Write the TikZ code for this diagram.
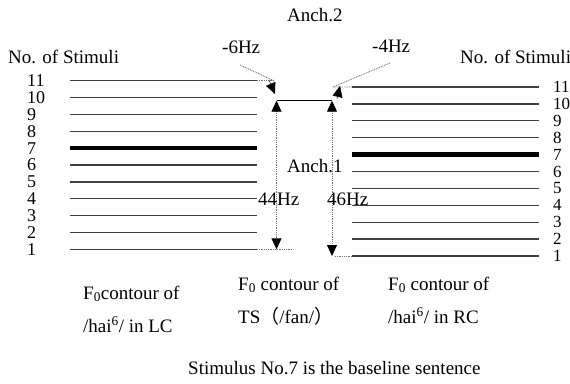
\documentclass[tikz,border=0pt]{standalone}
\usepackage{fontspec}
\setmainfont{Liberation Serif}
\newfontfamily\cjk{Noto Sans CJK SC}
\usetikzlibrary{arrows.meta,positioning}

\tikzset{
	stim/.style={draw=black!75,line width=1.3pt},
	basestim/.style={draw=black,line width=4.4pt},
	gap/.style={draw=black!55,dash pattern=on 0.9pt off 0.9pt,line width=0.9pt},
	tip/.tip={Triangle[width=10pt,length=11pt,color=black]},
	head/.style={-tip},
	lbl/.style={anchor=base west,inner sep=0pt},
	num/.style={anchor=west,inner sep=0pt,font=\fontsize{18}{18}\selectfont}
}

\begin{document}
\begin{tikzpicture}[x=1pt,y=-1pt,font=\fontsize{19}{22}\selectfont]
	\useasboundingbox (0,0) rectangle (570,383);
	
	\foreach \k in {1,...,11}{
		\coordinate (la\k) at (70,{249.3-(\k-1)*16.86});
		\coordinate (lb\k) at (257,{249.3-(\k-1)*16.86});
		\coordinate (ra\k) at (352,{256-(\k-1)*16.9});
		\coordinate (rb\k) at (539,{256-(\k-1)*16.9});
		\node[num] (ln\k) at ([xshift=-43pt]la\k) {\k};
		\node[num,font=\fontsize{17}{17}\selectfont] (rn\k) at ([xshift=14pt]rb\k) {\k};
	}
	\foreach \k in {1,...,6,8,9,10,11}{
		\draw[stim] (la\k) -- (lb\k);
		\draw[stim] (ra\k) -- (rb\k);
	}
	\draw[basestim] (la7) -- (lb7);
	\draw[basestim] (ra7) -- (rb7);
	
	% target syllable
	\coordinate (ts1) at (276.5,100.7);
	\coordinate (ts2) at (332,100.7);
	\draw[stim,draw=black] (ts1) -- (ts2);
	\draw[gap,tip-tip] (ts1) -- (ts1 |- lb1);
	\draw[gap,tip-tip] (ts2) -- (ts2 |- ra1);
	\coordinate (lend) at (293,249.3);
	\coordinate (rend) at (335,256);
	\draw[gap] (lb1) -- (lend);
	\draw[gap] (rend) -- (ra1);
	
	% jumps at the boundaries
	\coordinate (ltop) at (274,80.7);
	\coordinate (rtop) at (333,87);
	\draw[gap] (lb11) -- (ltop);
	\draw[gap] (rtop) -- (ra11);
	\coordinate (d6a) at (269,80);
	\coordinate (d6b) at (275,94);
	\coordinate (d4a) at (337,99);
	\coordinate (d4b) at (340,86);
	\draw[head] (d6a) -- (d6b);
	\draw[head] (d4a) -- (d4b);
	
	\node[lbl] (m6) at (222,53) {-6Hz};
	\node[lbl] (m4) at (372,52) {-4Hz};
	\coordinate (m6l) at (240,65);
	\coordinate (m4l) at (390,63);
	\draw[gap] (m6l) -- (ltop);
	\draw[gap] (m4l) -- (rtop);
	
	\node[lbl] (anch2) at (287,21) {Anch.2};
	\node[lbl] (anch1) at (287,172) {Anch.1};
	\node[lbl] (hz44) at (258,205) {44Hz};
	\node[lbl] (hz46) at (327,205) {46Hz};
	\node[lbl] (nol) at (8,63) {No. of Stimuli};
	\node[lbl] (nor) at (460,63) {No. of Stimuli};
	
	\node[lbl] (lc1) at (83,299) {F\textsubscript{0}contour of};
	\node[lbl] (lc2) at (83,332) {/hai\textsuperscript{6}/ in LC};
	\node[lbl] (ts3) at (238,290) {F\textsubscript{0} contour of};
	\node[lbl] (ts4) at (238,323) {TS{\cjk （}/fan/{\cjk ）}};
	\node[lbl] (rc1) at (388,290) {F\textsubscript{0} contour of};
	\node[lbl] (rc2) at (388,323) {/hai\textsuperscript{6}/ in RC};
	\node[lbl] (note) at (188,374) {Stimulus No.7 is the baseline sentence};
\end{tikzpicture}
\end{document}
